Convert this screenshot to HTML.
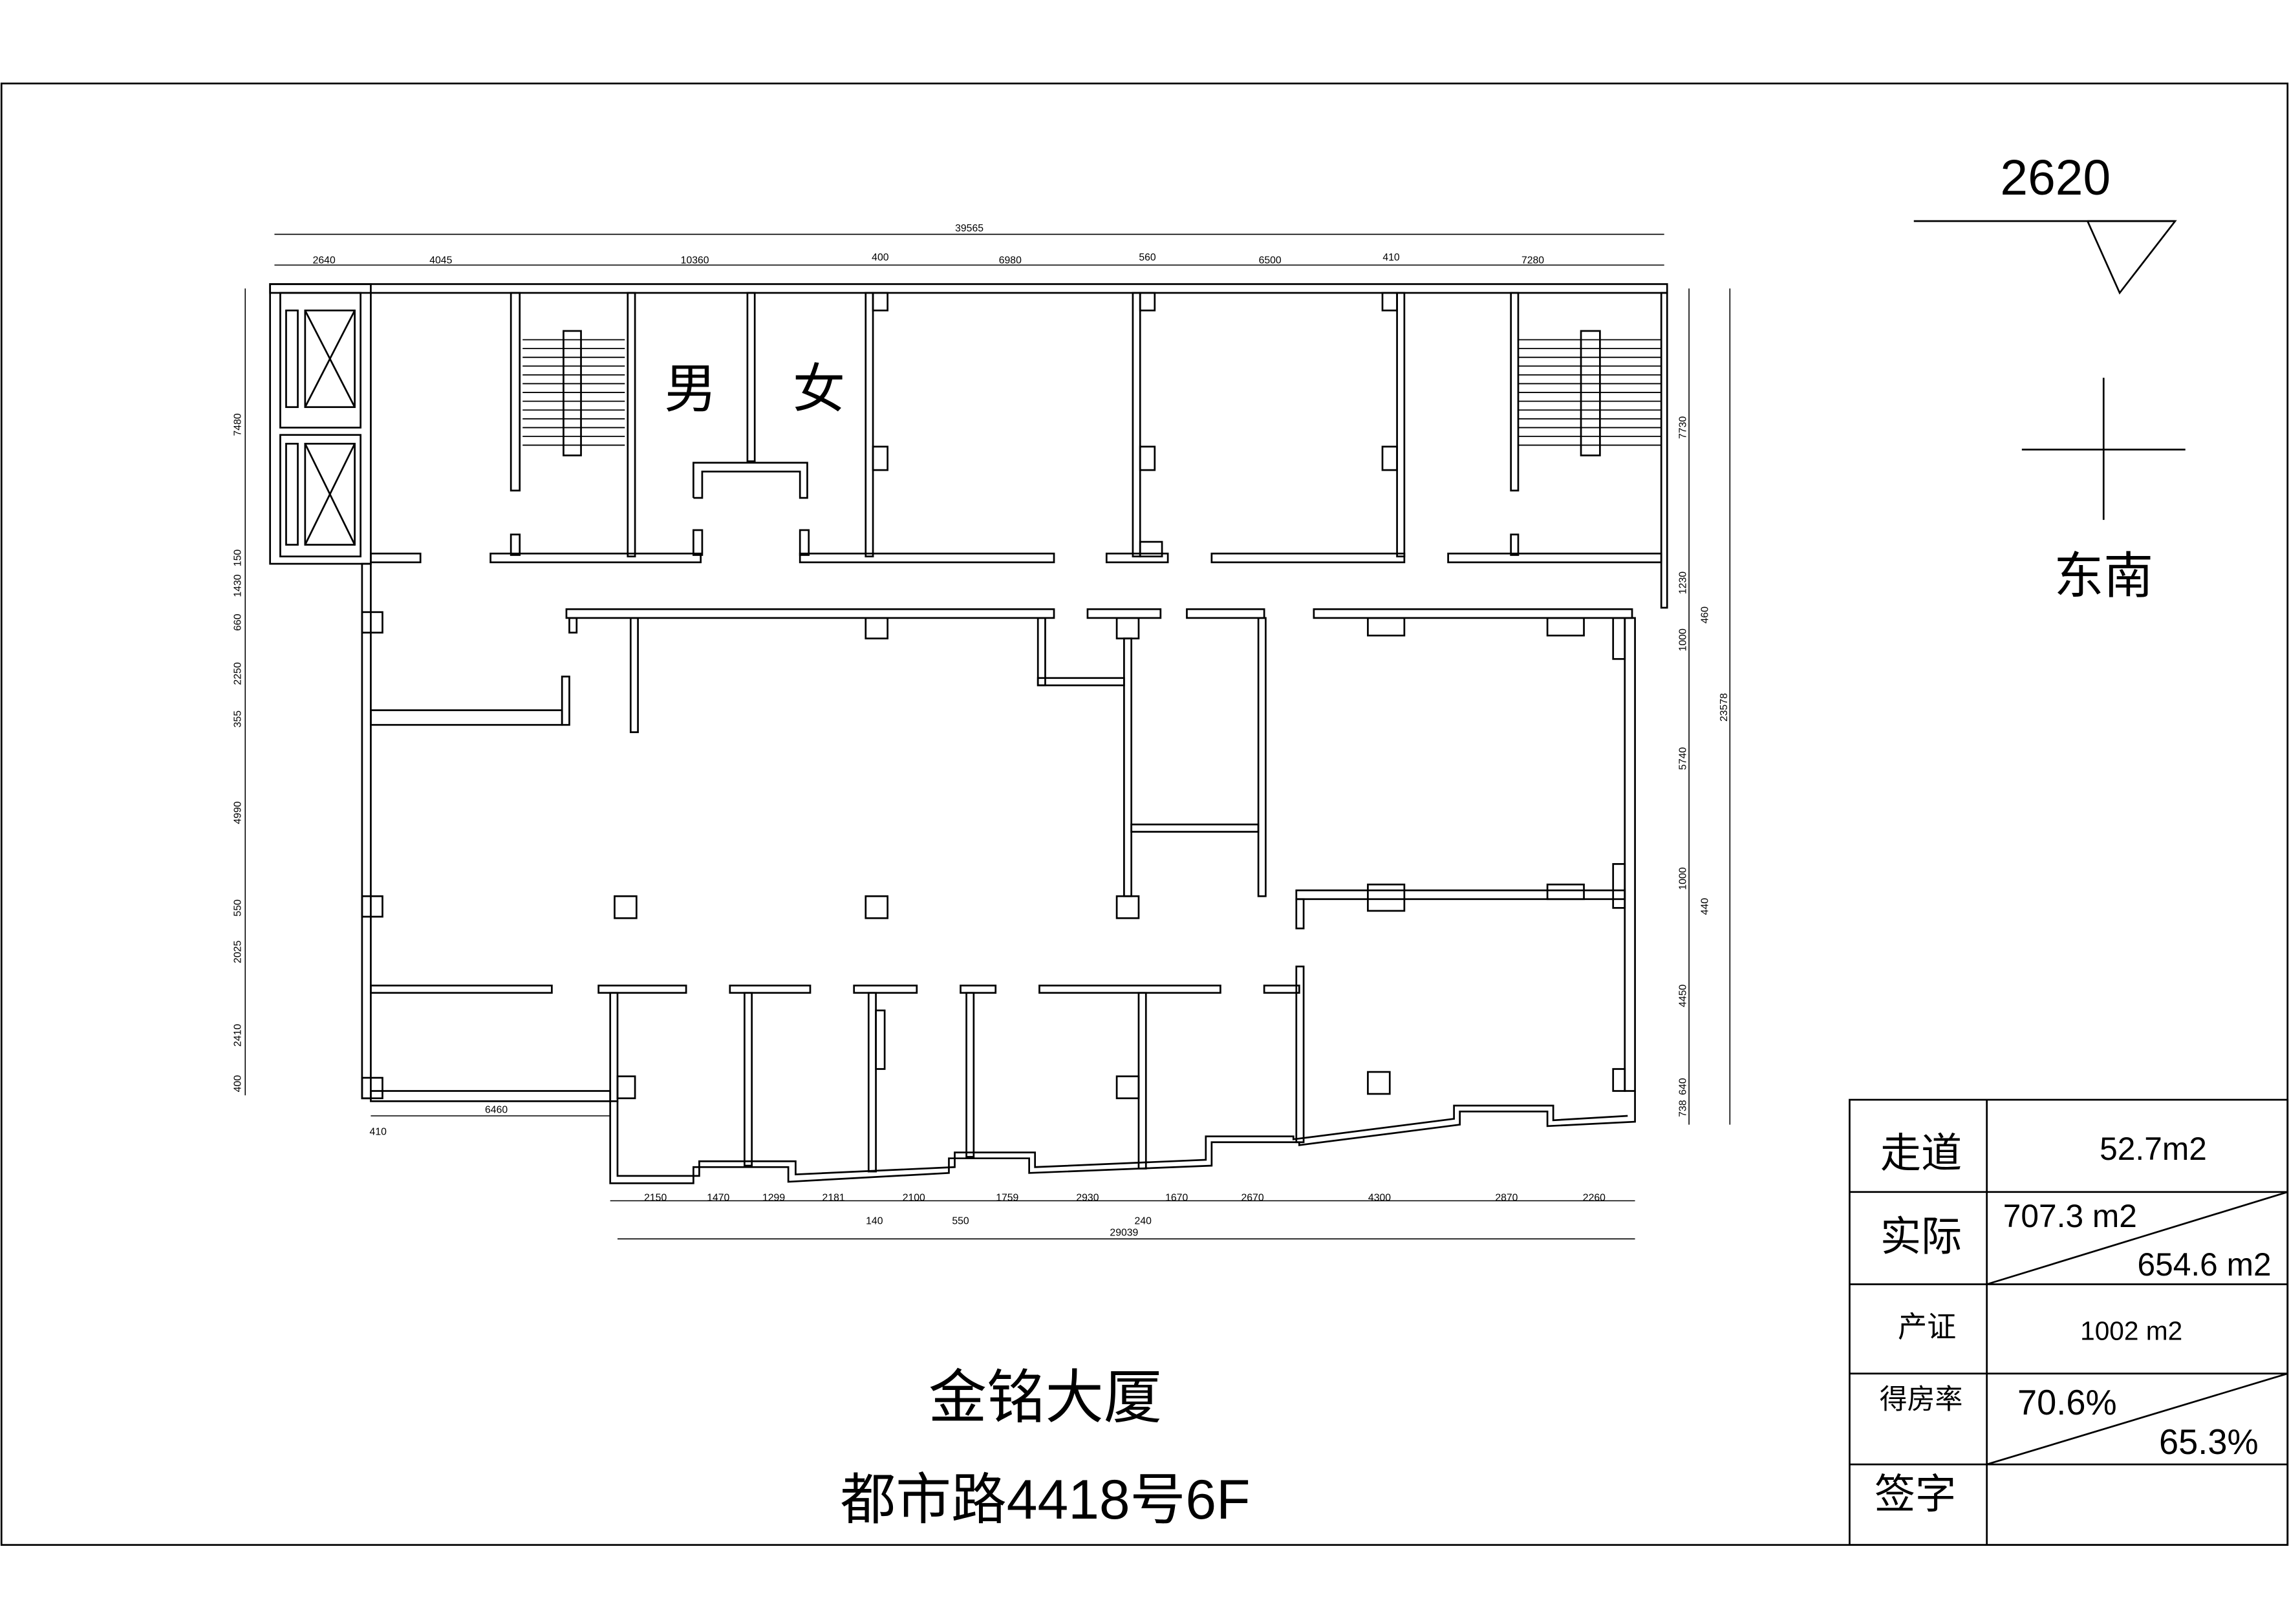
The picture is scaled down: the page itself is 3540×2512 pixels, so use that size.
<!DOCTYPE html>
<html><head><meta charset="utf-8"><style>
html,body{margin:0;padding:0;background:#fff}
svg{display:block}
text{font-family:"Liberation Sans","Noto Sans CJK SC",sans-serif;fill:#000}
.d{font-size:7px;text-anchor:middle}
</style></head><body>
<svg width="3540" height="2512" viewBox="0 0 1568 1109" preserveAspectRatio="none" xmlns="http://www.w3.org/2000/svg">
<g fill="none" stroke="#000" stroke-width="1.2">
<rect x="1" y="57" width="1566" height="998"/>
<!-- table -->
<rect x="1267" y="751" width="300" height="304"/>
<line x1="1267" y1="814" x2="1567" y2="814"/><line x1="1267" y1="877" x2="1567" y2="877"/>
<line x1="1267" y1="938" x2="1567" y2="938"/><line x1="1267" y1="1000" x2="1567" y2="1000"/>
<line x1="1361" y1="751" x2="1361" y2="1055"/>
<line x1="1361" y1="877" x2="1567" y2="814"/><line x1="1361" y1="1000" x2="1567" y2="938"/>
<!-- north marks -->
<line x1="1311" y1="151" x2="1490" y2="151"/><polyline points="1430,151 1490,151 1452,200 1430,151"/>
<line x1="1441" y1="258" x2="1441" y2="355"/><line x1="1385" y1="307" x2="1497" y2="307"/>
<!-- dimension lines -->
<g stroke-width="0.7">
<line x1="188" y1="160" x2="1140" y2="160"/><line x1="188" y1="181" x2="1140" y2="181"/>
<line x1="168" y1="197" x2="168" y2="748"/><line x1="1157" y1="197" x2="1157" y2="768"/><line x1="1185" y1="197" x2="1185" y2="768"/>
<line x1="418" y1="820" x2="1120" y2="820"/><line x1="423" y1="846" x2="1120" y2="846"/>
<line x1="254" y1="762" x2="418" y2="762"/>
</g>
<!-- outer walls -->
<rect x="185" y="194" width="957" height="6"/>
<rect x="185" y="194" width="69" height="191"/>
<rect x="192" y="200" width="55" height="92"/><rect x="192" y="297" width="55" height="83"/>
<rect x="209" y="212" width="34" height="66"/><line x1="209" y1="212" x2="243" y2="278"/><line x1="243" y1="212" x2="209" y2="278"/>
<rect x="196" y="212" width="8" height="66"/>
<rect x="209" y="303" width="34" height="69"/><line x1="209" y1="303" x2="243" y2="372"/><line x1="243" y1="303" x2="209" y2="372"/>
<rect x="196" y="303" width="8" height="69"/>
<rect x="248" y="385" width="6" height="365"/>
<rect x="1138" y="200" width="4" height="215"/>
<rect x="1113" y="422" width="7" height="323"/>
<rect x="248" y="418" width="14" height="14"/><rect x="248" y="612" width="14" height="14"/><rect x="248" y="736" width="14" height="14"/>
<rect x="254" y="745" width="164" height="7"/>
<polyline points="418,752 418,808 475,808 475,797 540,797 540,807 650,801 650,791 705,791 705,801 830,796 830,780 890,780 890,782 1000,768 1000,759 1060,759 1060,769 1120,766 1120,745"/>
<polyline points="423,752 423,803 479,803 479,793 545,793 545,802 654,797 654,787 709,787 709,797 826,792 826,776 886,776 886,778 996,764 996,755 1064,755 1064,765 1115,762"/>
<!-- stairs -->
<rect x="350" y="200" width="6" height="135"/><rect x="1035" y="200" width="5" height="135"/>
<rect x="386" y="226" width="12" height="85"/><rect x="1083" y="226" width="13" height="85"/>
</g>
<g stroke="#000" stroke-width="0.8">
<path d="M358 232H428M358 238H428M358 244H428M358 250H428M358 256H428M358 262H428M358 268H428M358 274H428M358 280H428M358 286H428M358 292H428M358 298H428M358 304H428"/>
<path d="M1040 232H1138M1040 238H1138M1040 244H1138M1040 250H1138M1040 256H1138M1040 262H1138M1040 268H1138M1040 274H1138M1040 280H1138M1040 286H1138M1040 292H1138M1040 298H1138M1040 304H1138"/>
</g>
<g fill="none" stroke="#000" stroke-width="1.2">
<!-- interior verticals top -->
<rect x="430" y="200" width="5" height="180"/><rect x="512" y="200" width="5" height="115"/>
<rect x="593" y="200" width="5" height="180"/><rect x="776" y="200" width="5" height="180"/><rect x="957" y="200" width="5" height="180"/>
<rect x="598" y="200" width="10" height="12"/><rect x="598" y="305" width="10" height="16"/>
<rect x="781" y="200" width="10" height="12"/><rect x="781" y="305" width="10" height="16"/>
<rect x="947" y="200" width="10" height="12"/><rect x="947" y="305" width="10" height="16"/>
<rect x="781" y="370" width="15" height="10"/>
<polyline points="475,340 475,316 553,316 553,340 548,340 548,322 481,322 481,340 475,340"/>
<rect x="350" y="365" width="6" height="14"/><rect x="475" y="362" width="6" height="17"/><rect x="548" y="362" width="6" height="17"/><rect x="1035" y="365" width="5" height="14"/>
<!-- corridor walls -->
<rect x="254" y="378" width="34" height="6"/><rect x="336" y="378" width="144" height="6"/><rect x="548" y="378" width="174" height="6"/>
<rect x="758" y="378" width="42" height="6"/><rect x="830" y="378" width="132" height="6"/><rect x="992" y="378" width="146" height="6"/>
<rect x="388" y="416" width="334" height="6"/><rect x="745" y="416" width="50" height="6"/><rect x="813" y="416" width="53" height="6"/><rect x="900" y="416" width="218" height="6"/>
<rect x="390" y="422" width="5" height="10"/><rect x="432" y="422" width="5" height="78"/>
<rect x="593" y="422" width="15" height="14"/><rect x="937" y="422" width="25" height="12"/><rect x="1060" y="422" width="25" height="12"/>
<rect x="765" y="422" width="15" height="14"/>
<rect x="711" y="422" width="5" height="46"/><rect x="711" y="463" width="59" height="5"/>
<rect x="770" y="436" width="5" height="176"/><rect x="775" y="563" width="87" height="5"/><rect x="862" y="422" width="5" height="190"/>
<rect x="385" y="462" width="5" height="33"/><rect x="254" y="485" width="131" height="10"/>
<rect x="888" y="608" width="225" height="6"/><rect x="888" y="614" width="5" height="20"/>
<rect x="937" y="604" width="25" height="18"/><rect x="1060" y="604" width="25" height="10"/>
<rect x="1105" y="422" width="8" height="28"/><rect x="1105" y="590" width="8" height="30"/><rect x="1105" y="730" width="8" height="15"/>
<!-- columns -->
<rect x="421" y="612" width="15" height="15"/><rect x="593" y="612" width="15" height="15"/><rect x="765" y="612" width="15" height="15"/><rect x="937" y="732" width="15" height="15"/>
<!-- lower walls -->
<rect x="254" y="673" width="124" height="5"/><rect x="410" y="673" width="60" height="5"/><rect x="500" y="673" width="55" height="5"/>
<rect x="585" y="673" width="43" height="5"/><rect x="658" y="673" width="24" height="5"/><rect x="712" y="673" width="124" height="5"/><rect x="866" y="673" width="24" height="5"/>
<rect x="418" y="678" width="5" height="74"/><rect x="423" y="735" width="12" height="15"/>
<rect x="510" y="678" width="5" height="118"/><rect x="595" y="678" width="5" height="122"/><rect x="600" y="690" width="6" height="40"/>
<rect x="662" y="678" width="5" height="112"/><rect x="780" y="678" width="5" height="120"/><rect x="765" y="735" width="15" height="15"/>
<rect x="888" y="660" width="5" height="120"/>
</g>
<!-- labels -->
<text x="473" y="278" font-size="36" text-anchor="middle">男</text>
<text x="561" y="278" font-size="36" text-anchor="middle">女</text>
<text x="664" y="158" class="d">39565</text>
<text x="222" y="180" class="d">2640</text><text x="302" y="180" class="d">4045</text><text x="476" y="180" class="d">10360</text>
<text x="603" y="178" class="d">400</text><text x="692" y="180" class="d">6980</text><text x="786" y="178" class="d">560</text>
<text x="870" y="180" class="d">6500</text><text x="953" y="178" class="d">410</text><text x="1050" y="180" class="d">7280</text>
<g class="d">
<text transform="translate(165,290) rotate(-90)" class="d">7480</text>
<text transform="translate(165,381) rotate(-90)" class="d">150</text>
<text transform="translate(165,400) rotate(-90)" class="d">1430</text>
<text transform="translate(165,425) rotate(-90)" class="d">660</text>
<text transform="translate(165,460) rotate(-90)" class="d">2250</text>
<text transform="translate(165,491) rotate(-90)" class="d">355</text>
<text transform="translate(165,555) rotate(-90)" class="d">4990</text>
<text transform="translate(165,620) rotate(-90)" class="d">550</text>
<text transform="translate(165,650) rotate(-90)" class="d">2025</text>
<text transform="translate(165,707) rotate(-90)" class="d">2410</text>
<text transform="translate(165,740) rotate(-90)" class="d">400</text>
<text transform="translate(1155,292) rotate(-90)" class="d">7730</text>
<text transform="translate(1155,398) rotate(-90)" class="d">1230</text>
<text transform="translate(1170,420) rotate(-90)" class="d">460</text>
<text transform="translate(1155,437) rotate(-90)" class="d">1000</text>
<text transform="translate(1183,483) rotate(-90)" class="d">23578</text>
<text transform="translate(1155,518) rotate(-90)" class="d">5740</text>
<text transform="translate(1155,600) rotate(-90)" class="d">1000</text>
<text transform="translate(1170,619) rotate(-90)" class="d">440</text>
<text transform="translate(1155,680) rotate(-90)" class="d">4450</text>
<text transform="translate(1155,742) rotate(-90)" class="d">640</text>
<text transform="translate(1155,757) rotate(-90)" class="d">738</text>
</g>
<text x="449" y="820" class="d">2150</text><text x="492" y="820" class="d">1470</text><text x="530" y="820" class="d">1299</text>
<text x="571" y="820" class="d">2181</text><text x="626" y="820" class="d">2100</text><text x="690" y="820" class="d">1759</text>
<text x="745" y="820" class="d">2930</text><text x="806" y="820" class="d">1670</text><text x="858" y="820" class="d">2670</text>
<text x="945" y="820" class="d">4300</text><text x="1032" y="820" class="d">2870</text><text x="1092" y="820" class="d">2260</text>
<text x="599" y="836" class="d">140</text><text x="658" y="836" class="d">550</text><text x="783" y="836" class="d">240</text>
<text x="770" y="844" class="d">29039</text>
<text x="259" y="775" class="d">410</text><text x="340" y="760" class="d">6460</text>
<text x="1408" y="133" font-size="34" text-anchor="middle">2620</text>
<text x="1441" y="405" font-size="34" text-anchor="middle">东南</text>
<text x="716" y="968" font-size="40" text-anchor="middle">金铭大厦</text>
<text x="716" y="1037" font-size="38" text-anchor="middle">都市路4418号6F</text>
<text x="1316" y="797" font-size="28" text-anchor="middle">走道</text>
<text x="1475" y="792" font-size="22" text-anchor="middle">52.7m2</text>
<text x="1316" y="854" font-size="28" text-anchor="middle">实际</text>
<text x="1418" y="838" font-size="22" text-anchor="middle">707.3 m2</text>
<text x="1510" y="871" font-size="22" text-anchor="middle">654.6 m2</text>
<text x="1320" y="913" font-size="20" text-anchor="middle">产证</text>
<text x="1460" y="915" font-size="18" text-anchor="middle">1002 m2</text>
<text x="1316" y="962" font-size="19" text-anchor="middle">得房率</text>
<text x="1416" y="966" font-size="24" text-anchor="middle">70.6%</text>
<text x="1513" y="993" font-size="24" text-anchor="middle">65.3%</text>
<text x="1312" y="1030" font-size="28" text-anchor="middle">签字</text>
</svg>
</body></html>
